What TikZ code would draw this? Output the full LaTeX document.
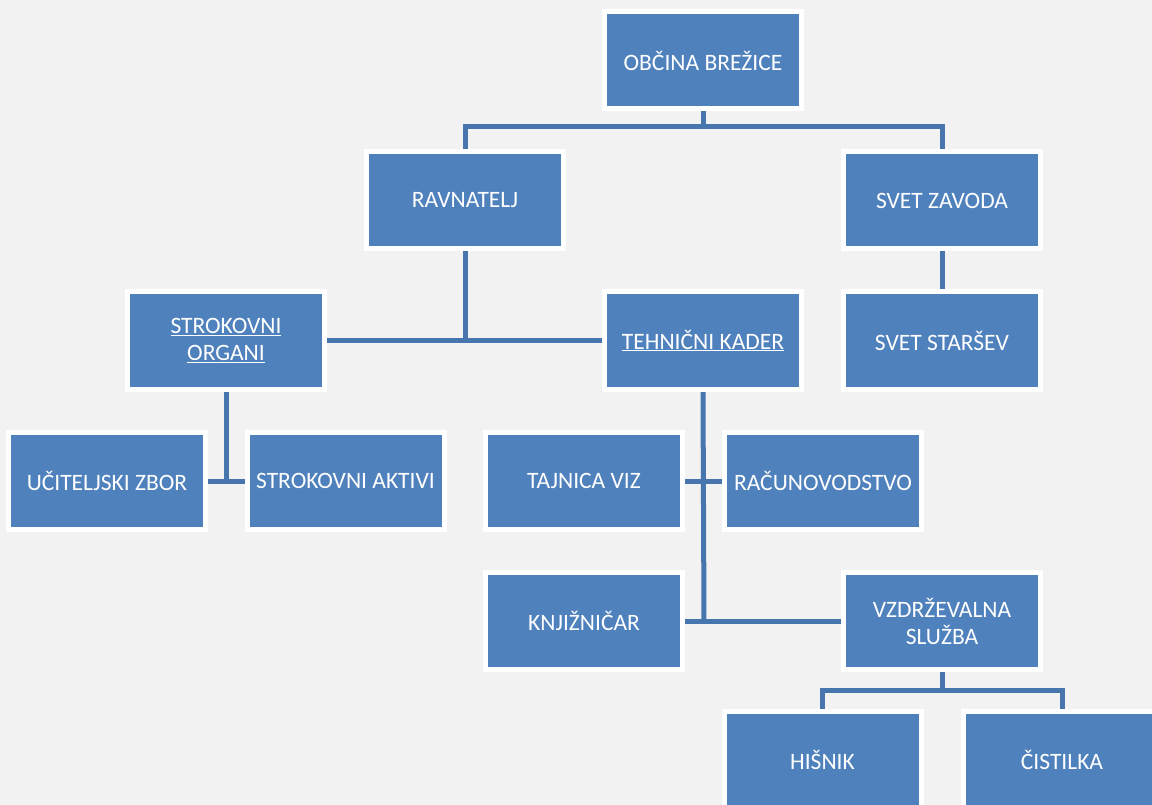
\documentclass[tikz,border=0pt]{standalone}
\usepackage{fontspec}
\setmainfont{Carlito}
\definecolor{boxblue}{HTML}{4F81BD}
\definecolor{lineblue}{HTML}{4775AE}
\definecolor{paper}{HTML}{F2F2F2}
\pgfdeclarelayer{bg}
\pgfsetlayers{bg,main}
\tikzset{
  unit/.style={rectangle, fill=boxblue, draw=white, line width=5pt,
    minimum width=197pt, minimum height=97pt, inner sep=2pt,
    text=white, align=center, font=\fontsize{23.5}{27}\selectfont},
  conn/.style={draw=lineblue, line width=5pt}
}
\begin{document}
\begin{tikzpicture}[x=1pt, y=-1pt]
\useasboundingbox (0,0) rectangle (1152,805);
\clip (0,0) rectangle (1152,805);

\node[unit] (obcina) at (703,60.5) {OBČINA BREŽICE};
\node[unit] (ravnatelj) at (465,200.5) {RAVNATELJ};
\node[unit] (svetzavoda) at (942,200.5) {SVET ZAVODA};
\node[unit] (strokovni) at (226,340.5) {\underline{STROKOVNI}\\\underline{ORGANI}};
\node[unit] (tehnicni) at (703,340.5) {\underline{TEHNIČNI KADER}};
\node[unit] (svetstarsev) at (942,340.5) {SVET STARŠEV};
\node[unit] (uciteljski) at (107,481) {UČITELJSKI ZBOR};
\node[unit] (aktivi) at (345.5,481) {STROKOVNI AKTIVI};
\node[unit] (tajnica) at (584,481) {TAJNICA VIZ};
\node[unit] (racunovodstvo) at (823,481) {RAČUNOVODSTVO};
\node[unit] (knjiznicar) at (584,621) {KNJIŽNIČAR};
\node[unit] (vzdrzevalna) at (942,621) {VZDRŽEVALNA\\SLUŽBA};
\node[unit] (hisnik) at (822.5,760) {HIŠNIK};
\node[unit] (cistilka) at (1062,760) {ČISTILKA};

\coordinate (top) at (703,127);
\coordinate (mid) at (465,340.5);
\coordinate (left) at (226,481);
\coordinate (right) at (704,621);
\coordinate (low) at (942,690);

\begin{pgfonlayer}{bg}
\fill[paper] (0,0) rectangle (1152,805);

% top level
\draw[conn] (obcina.south) -- (top);
\draw[conn] (ravnatelj.north) |- (top) -| (svetzavoda.north);
\draw[conn] (svetzavoda.south) -- (svetstarsev.north);

% ravnatelj
\draw[conn] (ravnatelj.south) -- (mid);
\draw[conn] (strokovni.east) -- (tehnicni.west);

% strokovni organi
\draw[conn] (strokovni.south) -- (left);
\draw[conn] (uciteljski.east) -- (aktivi.west);

% tehnicni kader
\draw[conn] (tehnicni.south) -- (right);
\draw[conn] (tajnica.east) -- (racunovodstvo.west);
\draw[conn] (knjiznicar.east) -- (vzdrzevalna.west);

% vzdrzevalna sluzba
\draw[conn] (vzdrzevalna.south) -- (low);
\draw[conn] (hisnik.north) |- (low) -| (cistilka.north);
\end{pgfonlayer}

\end{tikzpicture}
\end{document}
